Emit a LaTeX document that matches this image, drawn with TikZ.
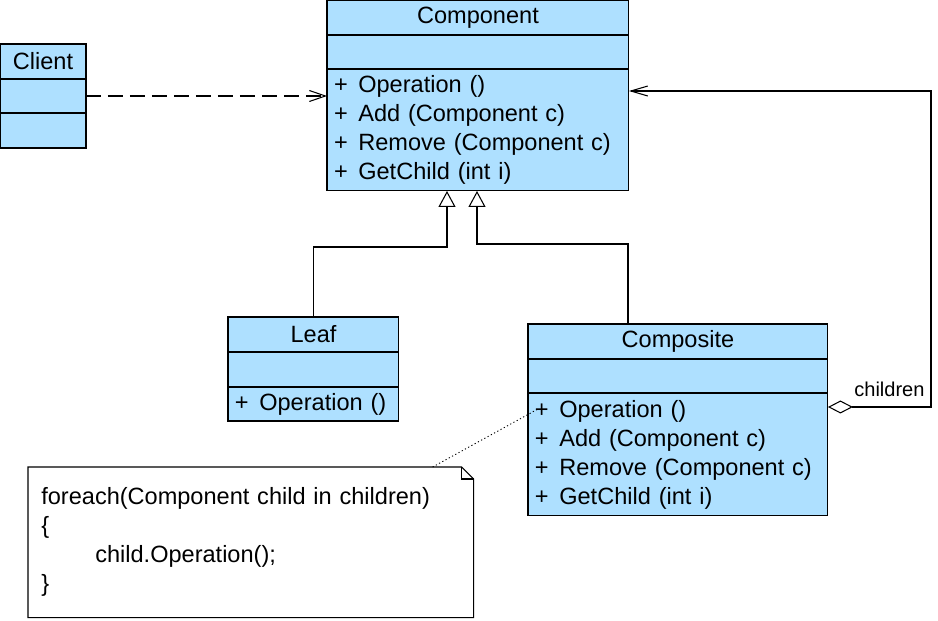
\documentclass[tikz,border=0pt]{standalone}
\usepackage{fontspec}
\setmainfont{Liberation Sans}
\usetikzlibrary{positioning,arrows.meta}
\definecolor{umlblue}{RGB}{174,224,255}

\tikzset{
  umlpart/.style={draw, fill=umlblue, line width=0.6pt, inner sep=0pt, outer sep=0pt},
  umlops/.style={umlpart, align=left, inner xsep=0.14cm},
  gen/.style={line width=0.6pt, -{Triangle[open, length=0.32cm, width=0.34cm, fill=white]}},
  dep/.style={line width=0.6pt, dash pattern=on 0.3cm off 0.14cm, -{Straight Barb[length=0.32cm, width=0.22cm]}},
  agg/.style={line width=0.6pt, {Diamond[open, length=0.5cm, width=0.26cm, fill=white]}-{Straight Barb[length=0.34cm, width=0.2cm]}},
  notelink/.style={line width=0.5pt, dash pattern=on 0.7pt off 1.4pt},
}
\newcommand{\umlop}[1]{+\hspace{0.45em}#1}

\begin{document}
\begin{tikzpicture}[x=0.02cm, y=-0.02cm, font=\fontsize{13.4}{16.5}\selectfont]
\fill[white] (0,0) rectangle (938,620);
\useasboundingbox (0,0) rectangle (938,620);

% Component class
\node[umlpart, anchor=north west, minimum width=6.04cm, minimum height=0.70cm] (compHead) at (327,0) {Component};
\node[umlpart, below=0pt of compHead, minimum width=6.04cm, minimum height=0.68cm] (compAttr) {};
\node[umlops, below=0pt of compAttr, text width=5.76cm, minimum height=2.44cm] (compOps)
  {\umlop{Operation ()}\\ \umlop{Add (Component c)}\\ \umlop{Remove (Component c)}\\ \umlop{GetChild (int i)}};

% Client class
\node[umlpart, anchor=north west, minimum width=1.72cm, minimum height=0.70cm] (clientHead) at (0,44) {Client};
\node[umlpart, below=0pt of clientHead, minimum width=1.72cm, minimum height=0.68cm] (clientAttr) {};
\node[umlpart, below=0pt of clientAttr, minimum width=1.72cm, minimum height=0.70cm] (clientOps) {};

% Leaf class
\node[umlpart, anchor=north west, minimum width=3.42cm, minimum height=0.70cm] (leafHead) at (228,317) {Leaf};
\node[umlpart, below=0pt of leafHead, minimum width=3.42cm, minimum height=0.70cm] (leafAttr) {};
\node[umlops, below=0pt of leafAttr, text width=3.14cm, minimum height=0.68cm] (leafOps) {\umlop{Operation ()}};

% Composite class
\node[umlpart, anchor=north west, minimum width=6.0cm, minimum height=0.70cm] (compoHead) at (528,324) {Composite};
\node[umlpart, below=0pt of compoHead, minimum width=6.0cm, minimum height=0.68cm] (compoAttr) {};
\node[umlops, below=0pt of compoAttr, text width=5.72cm, minimum height=2.46cm] (compoOps)
  {\umlop{Operation ()}\\ \umlop{Add (Component c)}\\ \umlop{Remove (Component c)}\\ \umlop{GetChild (int i)}};

% note
\node[anchor=north west, minimum width=8.9cm, minimum height=3.0cm, inner xsep=0.26cm, inner ysep=0pt,
  text width=8.38cm, align=left] (noteBox) at (28,467)
  {foreach(Component child in children)\\ \{\\ \hspace*{1.08cm}child.Operation();\\ \}};
\draw[line width=0.6pt] (noteBox.north west) -- ([xshift=-0.24cm]noteBox.north east)
  -- ([yshift=-0.24cm]noteBox.north east) -- (noteBox.south east) -- (noteBox.south west) -- cycle;
\draw[line width=0.6pt] ([xshift=-0.24cm]noteBox.north east) |- ([yshift=-0.24cm]noteBox.north east);
\coordinate (opPoint) at ([xshift=0.2cm, yshift=-0.32cm]compoOps.north west);
\draw[notelink] ([xshift=-0.82cm]noteBox.north east) -- (opPoint);

% dependency
\draw[dep] (clientAttr.east) -- (clientAttr.east -| compOps.west);

% generalizations
\coordinate (leafBend) at (447,247);
\coordinate (compoBend) at (477,244);
\draw[gen] (leafHead.north) |- (leafBend) -- (leafBend |- compOps.south);
\draw[gen] ([xshift=-1cm]compoHead.north) |- (compoBend) -- (compoBend |- compOps.south);

% aggregation
\coordinate (aggCorner) at (931,91);
\draw[agg] ([yshift=-0.28cm]compoOps.north east) -| (aggCorner) -- (aggCorner -| compOps.east);
\node[anchor=base west, inner sep=0pt, font=\fontsize{11.4}{13}\selectfont] (childLbl) at (854,396) {children};

\end{tikzpicture}
\end{document}
